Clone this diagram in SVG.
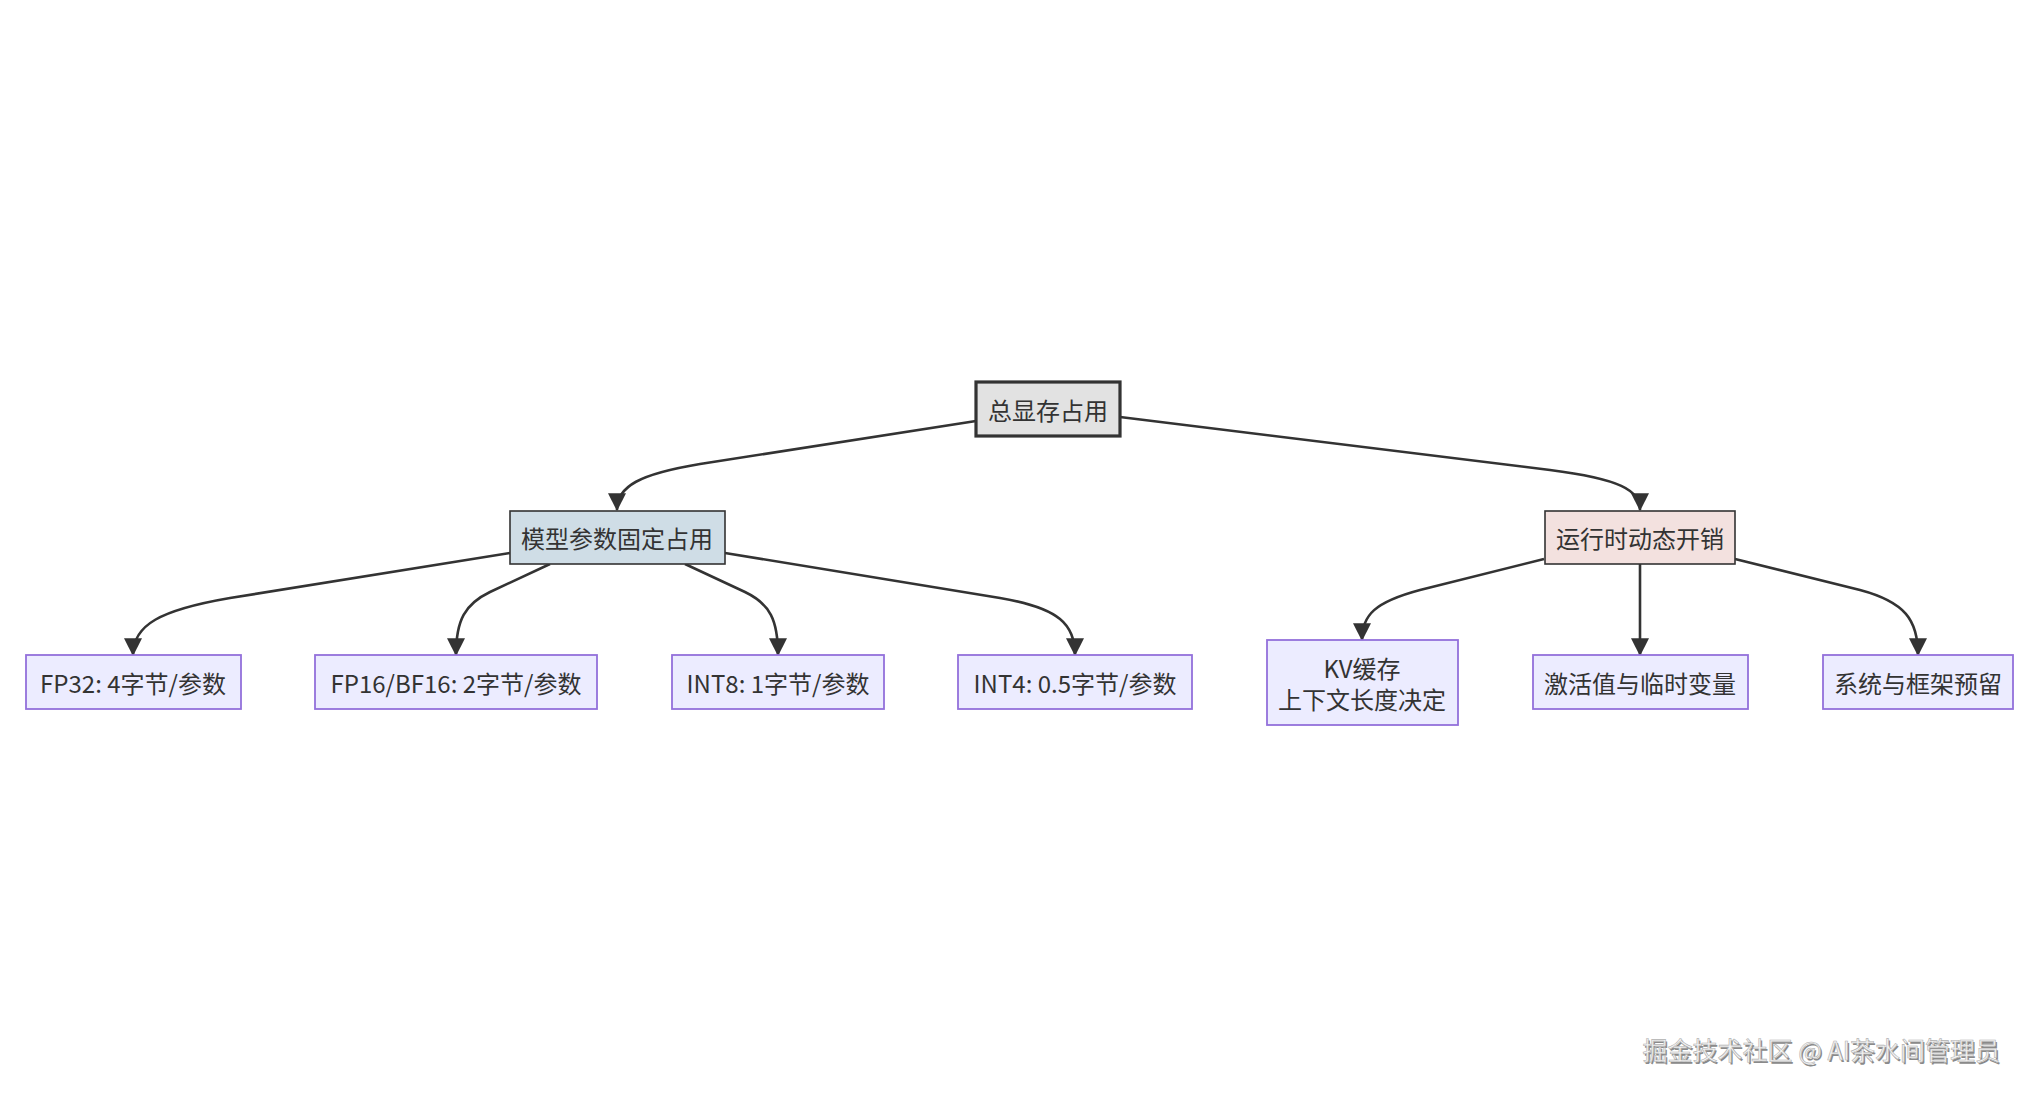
<svg xmlns="http://www.w3.org/2000/svg" width="2030" height="1094" viewBox="0 0 2030 1094">
<style>
text{font-family:"Noto Sans CJK SC","Liberation Sans",sans-serif;font-size:24px;fill:#333;text-anchor:middle;dominant-baseline:central}
.leaf{fill:#ECECFF;stroke:#9370DB;stroke-width:1.8}
.edge{fill:none;stroke:#333;stroke-width:2.6}
.wm{font-size:25px;text-anchor:end;dominant-baseline:alphabetic}
</style>
<defs>
<marker id="arr" markerUnits="userSpaceOnUse" markerWidth="18" markerHeight="18" viewBox="0 0 16 16" refX="15" refY="8" orient="auto">
<path d="M0,0 L16,8 L0,16 z" fill="#333"/>
</marker>
</defs>
<rect width="2030" height="1094" fill="#fff"/>
<g id="connectors">
<path class="edge" marker-end="url(#arr)" d="M976,421 L700,464 C640,474 617,486 617,510"/>
<path class="edge" marker-end="url(#arr)" d="M1120,417 L1550,470 C1620,479 1640,490 1640,510"/>
<path class="edge" marker-end="url(#arr)" d="M510,553 L230,598 C160,610 133,625 133,655"/>
<path class="edge" marker-end="url(#arr)" d="M550,564 L490,592 C465,604 456,620 456,655"/>
<path class="edge" marker-end="url(#arr)" d="M685,564 L745,592 C770,604 778,620 778,655"/>
<path class="edge" marker-end="url(#arr)" d="M725,553 L1000,598 C1060,608 1075,625 1075,655"/>
<path class="edge" marker-end="url(#arr)" d="M1544,559 L1420,590 C1375,602 1362,615 1362,640"/>
<path class="edge" marker-end="url(#arr)" d="M1640,564 L1640,655"/>
<path class="edge" marker-end="url(#arr)" d="M1735,559 L1860,590 C1905,602 1918,620 1918,655"/>
</g>
<g id="root">
<rect x="976" y="382" width="144" height="54" fill="#e2e2e2" stroke="#333" stroke-width="3.2"/>
<text x="1048" y="409">总显存占用</text>
</g>
<g id="model">
<rect x="510" y="511" width="215" height="53" fill="#cfdde6" stroke="#333" stroke-width="1.6"/>
<text x="617" y="537">模型参数固定占用</text>
</g>
<g id="runtime">
<rect x="1545" y="511" width="190" height="53" fill="#f3e1df" stroke="#333" stroke-width="1.6"/>
<text x="1640" y="537">运行时动态开销</text>
</g>
<g id="fp32">
<rect class="leaf" x="26" y="655" width="215" height="54"/>
<text x="133" y="682">FP32: 4字节/参数</text>
</g>
<g id="fp16">
<rect class="leaf" x="315" y="655" width="282" height="54"/>
<text x="456" y="682">FP16/BF16: 2字节/参数</text>
</g>
<g id="int8">
<rect class="leaf" x="672" y="655" width="212" height="54"/>
<text x="778" y="682">INT8: 1字节/参数</text>
</g>
<g id="int4">
<rect class="leaf" x="958" y="655" width="234" height="54"/>
<text x="1075" y="682">INT4: 0.5字节/参数</text>
</g>
<g id="kv">
<rect class="leaf" x="1267" y="640" width="191" height="85"/>
<text x="1362" y="667">KV缓存</text>
<text x="1362" y="698">上下文长度决定</text>
</g>
<g id="act">
<rect class="leaf" x="1533" y="655" width="215" height="54"/>
<text x="1640" y="682">激活值与临时变量</text>
</g>
<g id="sys">
<rect class="leaf" x="1823" y="655" width="190" height="54"/>
<text x="1918" y="682">系统与框架预留</text>
</g>
<g id="watermark">
<text class="wm" x="2001.5" y="1061.5" style="fill:#8a8a8a">掘金技术社区 @ AI茶水间管理员</text>
<text class="wm" x="2000" y="1060" style="fill:#f4f4f4;stroke:#b0b0b0;stroke-width:0.6">掘金技术社区 @ AI茶水间管理员</text>
</g>
</svg>
